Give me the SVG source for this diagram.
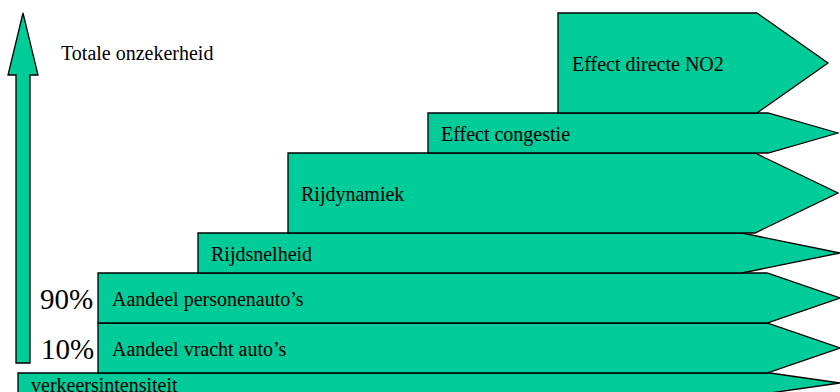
<svg xmlns="http://www.w3.org/2000/svg" width="840" height="392" viewBox="0 0 840 392">
<style>
.s{fill:#00CC99;stroke:#000;stroke-width:1.3;stroke-linejoin:miter}
.t{font-family:"Liberation Serif","Times New Roman",serif;font-size:20px;fill:#000}
.p{font-family:"Liberation Serif","Times New Roman",serif;font-size:29px;fill:#000}
</style>
<rect width="840" height="392" fill="#fff"/>
<g id="axis">
<polygon class="s" points="23,13 38,75 30,75 30,363 16,363 16,75 8,75"/>
<text class="t" x="61" y="60">Totale onzekerheid</text>
</g>
<g id="verkeersintensiteit">
<polygon class="s" points="18,373 770,373 840,383 770,393 18,393"/>
<text class="t" x="31" y="392">verkeersintensiteit</text>
</g>
<g id="vracht">
<polygon class="s" points="98,323 767,323 840,348 767,373 98,373"/>
<text class="t" x="112" y="356">Aandeel vracht auto’s</text>
<text class="p" x="41" y="359">10%</text>
</g>
<g id="personen">
<polygon class="s" points="98,273 767,273 840,298 767,323 98,323"/>
<text class="t" x="112" y="306">Aandeel personenauto’s</text>
<text class="p" x="40" y="309">90%</text>
</g>
<g id="rijdsnelheid">
<polygon class="s" points="198,233 742,233 840,253 742,273 198,273"/>
<text class="t" x="211" y="261">Rijdsnelheid</text>
</g>
<g id="rijdynamiek">
<polygon class="s" points="288,153 755,153 838,193 755,233 288,233"/>
<text class="t" x="301" y="201">Rijdynamiek</text>
</g>
<g id="congestie">
<polygon class="s" points="428,113 768,113 838,133 768,153 428,153"/>
<text class="t" x="441" y="141">Effect congestie</text>
</g>
<g id="no2">
<polygon class="s" points="558,13 757,13 828,63 757,113 558,113"/>
<text class="t" x="572" y="71">Effect directe NO2</text>
</g>
<g id="connectors"/>
</svg>
